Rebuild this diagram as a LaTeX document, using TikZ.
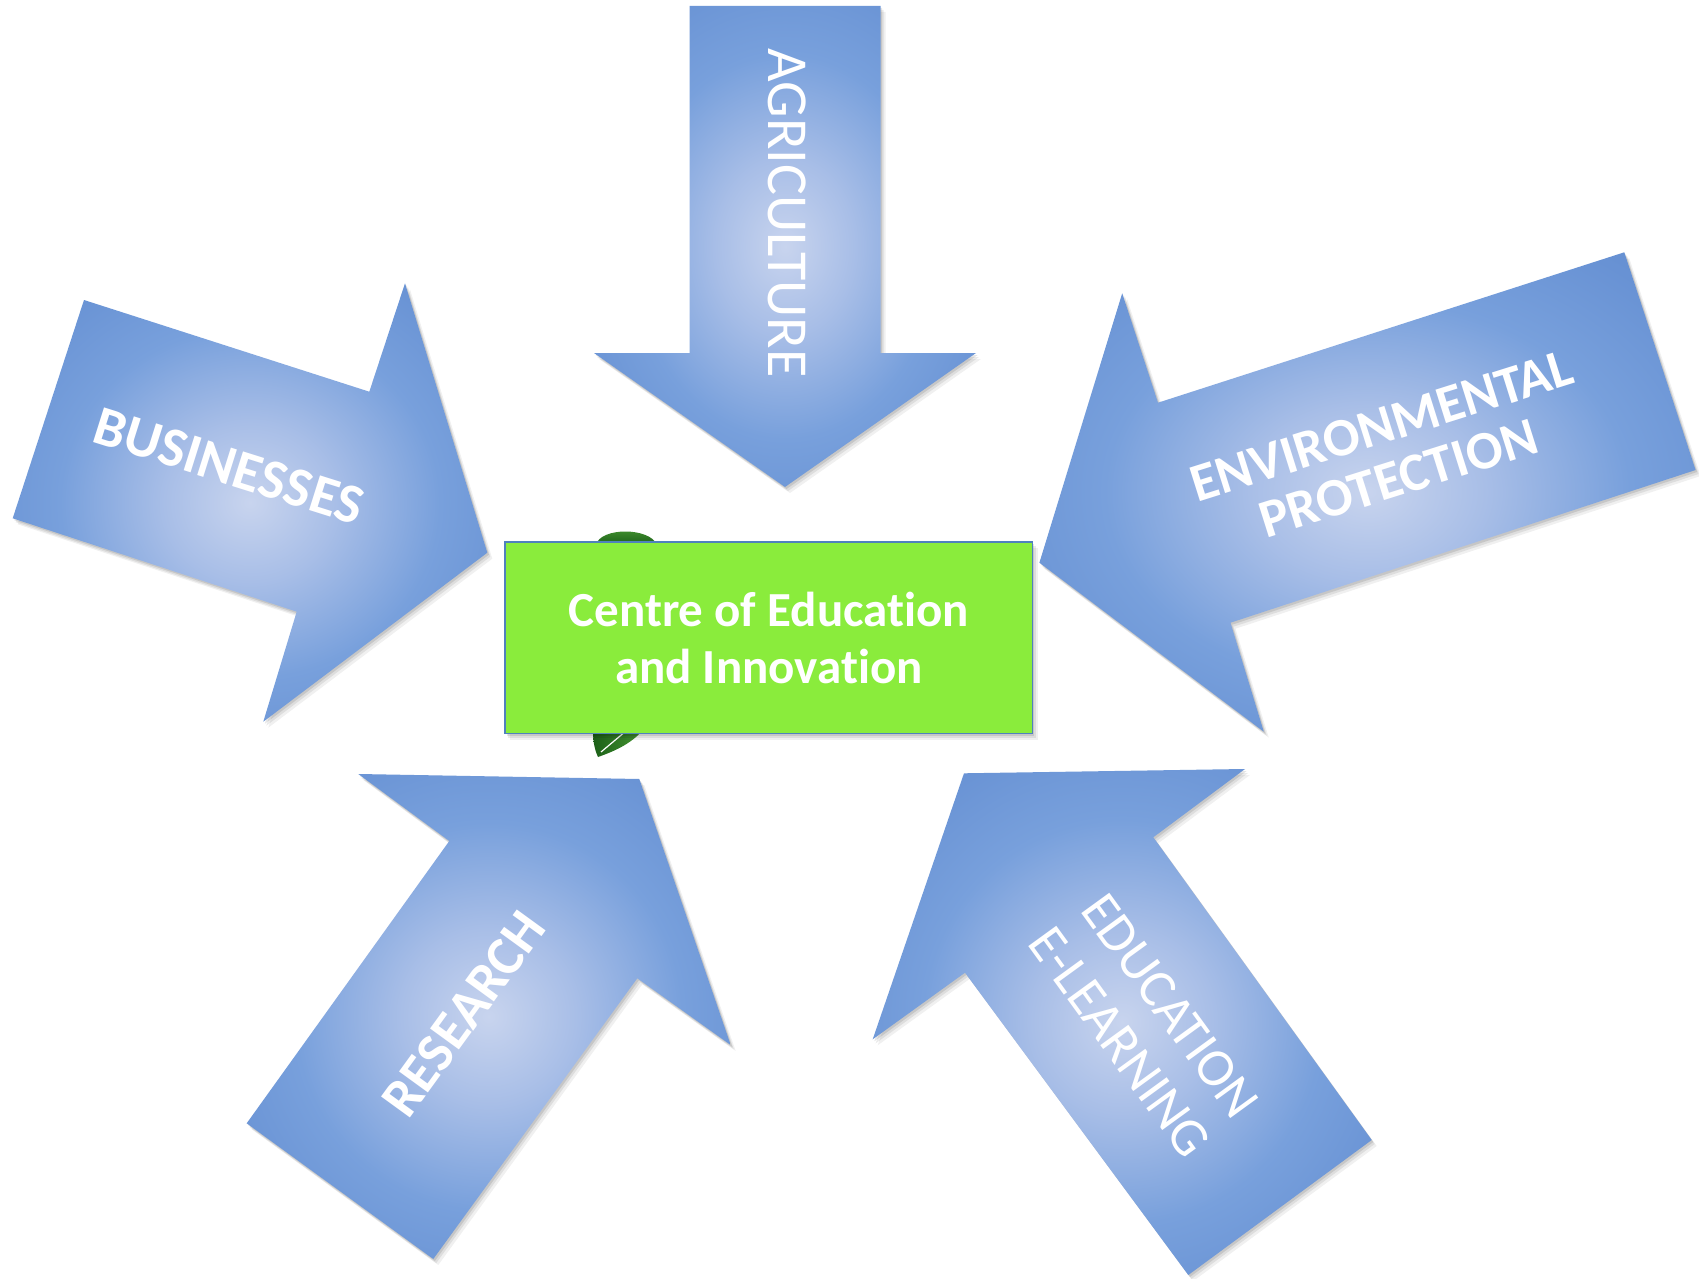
\documentclass[tikz,border=0pt]{standalone}
\usepackage{fontspec}
\setmainfont{Carlito}[Ligatures=NoCommon]
\usetikzlibrary{shadows}
\definecolor{bc0}{RGB}{200,212,238}
\definecolor{bc1}{RGB}{168,190,231}
\definecolor{bc2}{RGB}{120,160,220}
\definecolor{bc3}{RGB}{104,146,212}
\definecolor{bc4}{RGB}{90,133,195}
\definecolor{boxgreen}{RGB}{138,236,60}
\definecolor{boxline}{RGB}{79,129,189}
\definecolor{leafdark}{RGB}{28,96,24}
\definecolor{leaflight}{RGB}{70,150,50}
\pgfdeclareradialshading{arrowshade}{\pgfpoint{0bp}{0bp}}{color(0bp)=(bc0); color(9bp)=(bc1); color(20bp)=(bc2); color(30bp)=(bc3); color(44bp)=(bc4); color(50bp)=(bc4)}
\tikzset{
  softshadow/.style={
    preaction={fill=black, opacity=0.06, transform canvas={xshift=2.5pt, yshift=-3pt}},
    preaction={fill=black, opacity=0.08, transform canvas={xshift=1.5pt, yshift=-2pt}},
    preaction={fill=black, opacity=0.10, transform canvas={xshift=0.8pt, yshift=-1pt}}},
  bigarrow/.style={softshadow, shading=arrowshade},
  lbl/.style={text=white, inner sep=0pt, align=center},
  centrebox/.style={softshadow, draw=boxline, line width=0.8pt, fill=boxgreen, text=white, font=\bfseries\fontsize{24.5}{28.5}\selectfont, align=center, minimum width=263.8pt, minimum height=95.9pt, inner sep=0pt}
}
\begin{document}
\begin{tikzpicture}[x=0.5pt, y=-0.5pt]
\useasboundingbox (0,0) rectangle (1699,1279);
\fill[white] (0,0) rectangle (1699,1279);

% leaf behind the centre box
\shade[top color=leaflight, bottom color=leafdark] (596,545) .. controls (600,527) and (650,527) .. (657,545) -- cycle;
\shade[left color=leafdark, right color=leaflight] (593,730) -- (643,730) .. controls (630,745) and (612,752) .. (598,757) .. controls (594,748) and (593,740) .. (593,730) -- cycle;
\draw[white, line width=0.6pt] (601,752) -- (626,731);

% arrows
\path[bigarrow] (689.5,6) -- (880.5,6) -- (880.5,353) -- (976,353) -- (785,487) -- (594,353) -- (689.5,353) -- cycle;
\path[bigarrow] (84,300) -- (369.3,391.7) -- (405,283.3) -- (487.3,552.7) -- (263.3,721.7) -- (296.7,611.7) -- (12.7,518.3) -- cycle;
\path[bigarrow] (1624.3,252.3) -- (1695.6,470) -- (1230.5,622.7) -- (1263.8,731.7) -- (1039.4,562.7) -- (1122.2,293.3) -- (1158,402.7) -- cycle;
\path[bigarrow] (358.3,774) -- (639.3,779) -- (730.7,1045) -- (637.3,978.3) -- (433.3,1259) -- (246.7,1123.3) -- (449.3,841) -- cycle;
\path[bigarrow] (964,773.3) -- (1245,769) -- (1153.3,837.3) -- (1371.7,1140) -- (1188.3,1275) -- (965,972.7) -- (872.7,1039.3) -- cycle;

% labels
\node[lbl, rotate=-90, font=\fontsize{29}{32}\selectfont] (agri) at (787,213) {AGRICULTURE};
\node[lbl, rotate=-17.5, font=\bfseries\fontsize{28}{32}\selectfont] (bus) at (229,466) {BUSINESSES};
\node[lbl, rotate=17.5, font=\bfseries\fontsize{27}{27.5}\selectfont] (env) at (1390,452) {ENVIRONMENTAL\\PROTECTION};
\node[lbl, rotate=54, font=\bfseries\fontsize{27.5}{30}\selectfont] (res) at (464,1014) {RESEARCH};
\node[lbl, rotate=-54, font=\fontsize{27}{31}\selectfont] (edu) at (1145,1024) {EDUCATION\\E-LEARNING};

% centre box
\node[centrebox] (centre) at (768.8,637.6) {Centre of Education\\and Innovation};
\end{tikzpicture}
\end{document}
